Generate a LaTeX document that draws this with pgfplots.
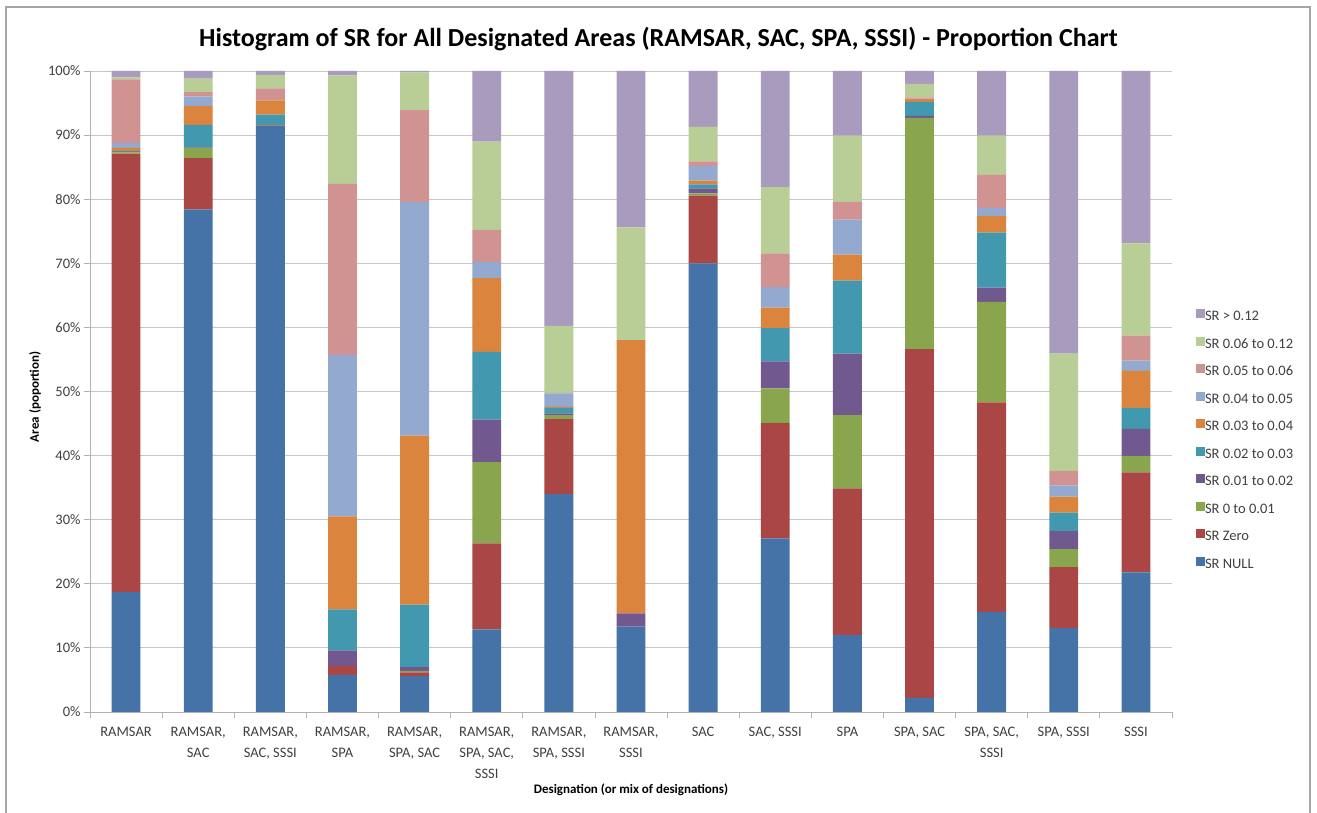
\documentclass[border=0pt]{standalone}
\usepackage{pgfplots}
\pgfplotsset{compat=1.18}
\usepackage{pgfplotstable}
\usepackage{fontspec}
\setmainfont{Carlito}
\definecolor{cNull}{HTML}{4572A7}
\definecolor{cZero}{HTML}{AA4643}
\definecolor{cA}{HTML}{89A54E}
\definecolor{cB}{HTML}{71588F}
\definecolor{cC}{HTML}{4198AF}
\definecolor{cD}{HTML}{DB843D}
\definecolor{cE}{HTML}{93A9CF}
\definecolor{cF}{HTML}{D19392}
\definecolor{cG}{HTML}{B9CD96}
\definecolor{cH}{HTML}{A99BBD}
\definecolor{txt}{HTML}{404040}

\pgfplotstableread{
x null zero a b c d e f g h
0 18.7 68.4 0.2 0.1 0.1 0.5 0.8 9.9 0.3 1.0
1 78.4 8.0 1.6 0.1 3.5 2.9 1.5 0.7 2.1 1.2
2 91.4 0.1 0.1 0 1.6 2.2 0 1.9 2.1 0.6
3 5.8 1.4 0 2.4 6.4 14.5 25.2 26.7 16.9 0.7
4 5.6 0.6 0.2 0.6 9.75 26.35 36.5 14.3 5.9 0.2
5 12.9 13.4 12.7 6.6 10.6 11.5 2.5 5.0 13.8 11.0
6 34.0 11.7 0.6 0.3 0.8 0.2 2.1 0.1 10.45 39.75
7 13.3 0 0 2.1 0 42.6 0 0 17.6 24.4
8 70.0 10.55 0.35 0.8 0.6 0.6 2.3 0.7 5.4 8.7
9 27.1 18.0 5.4 4.2 5.2 3.2 3.2 5.25 10.35 18.1
10 12.0 22.9 11.4 9.6 11.4 4.05 5.45 2.8 10.3 10.1
11 2.2 54.4 36.1 0.3 2.2 0.4 0.1 0.2 2.1 2.0
12 15.6 32.7 15.7 2.2 8.6 2.6 1.2 5.2 6.1 10.1
13 13.1 9.5 2.8 2.8 2.9 2.5 1.7 2.3 18.3 44.1
14 21.8 15.6 2.5 4.25 3.25 5.8 1.6 3.9 14.4 26.9
}\data

\begin{document}
\begin{tikzpicture}[x=1pt,y=1pt]
\useasboundingbox (0,0) rectangle (1317,813);
\fill[white] (0,0) rectangle (1317,813);
\draw[gray!70, line width=1.2pt] (6,0) -- (6,806) -- (1310,806) -- (1310,0);
\begin{axis}[
  at={(90pt,101pt)}, anchor=south west,
  scale only axis, width=1082pt, height=641pt,
  ybar stacked, bar width=0.4,
  xmin=-0.5, xmax=14.5, ymin=0, ymax=100,
  xtick={0,...,14},
  xticklabels={RAMSAR, {RAMSAR,\\SAC}, {RAMSAR,\\SAC, SSSI}, {RAMSAR,\\SPA}, {RAMSAR,\\SPA, SAC}, {RAMSAR,\\SPA, SAC,\\SSSI}, {RAMSAR,\\SPA, SSSI}, {RAMSAR,\\SSSI}, SAC, {SAC, SSSI}, SPA, {SPA, SAC}, {SPA, SAC,\\SSSI}, {SPA, SSSI}, SSSI},
  minor xtick={-0.5,0.5,...,14.5},
  ytick={0,10,...,100},
  yticklabel={\pgfmathprintnumber{\tick}\%},
  /pgf/number format/assume math mode=true,
  ymajorgrids, grid style={gray!45, line width=0.8pt},
  axis x line*=bottom, axis y line*=left,
  axis line style={gray!60, line width=0.8pt, -},
  tick align=outside, major tick length=6pt, minor tick length=6pt,
  every major x tick/.append style={draw=none},
  every minor x tick/.append style={gray!60, line width=0.8pt},
  every major y tick/.append style={gray!60, line width=0.8pt},
  xticklabel style={align=center, font=\fontsize{14.5}{21}\selectfont, text=txt, yshift=-6pt},
  yticklabel style={font=\fontsize{14.5}{17}\selectfont, text=txt},
  title={Histogram of SR for All Designated Areas (RAMSAR, SAC, SPA, SSSI) - Proportion Chart},
  title style={font=\bfseries\fontsize{26}{30}\selectfont, at={(axis description cs:0.5254,1.0406)}, anchor=center},
  xlabel={Designation (or mix of designations)},
  xlabel style={font=\bfseries\fontsize{13}{16}\selectfont, at={(axis description cs:0.5,-0.1217)}, anchor=center},
  ylabel={Area (poportion)},
  ylabel style={font=\bfseries\fontsize{13}{16}\selectfont, at={(axis description cs:-0.0508,0.4915)}, anchor=center},
  legend style={draw=none, fill=none, at={(axis description cs:1.022,0.424)}, anchor=west, font=\fontsize{14.5}{17}\selectfont, text=txt, row sep=13pt, inner xsep=0pt, nodes={inner sep=0pt, text height=10pt, text depth=3pt}},
  legend cell align=left, reverse legend,
  legend image code/.code={\fill[#1] (0pt,-1pt) rectangle (9pt,8pt);},
]
\addplot[fill=cNull, draw=none] table[x=x,y=null]{\data}; \addlegendentry{SR NULL}
\addplot[fill=cZero, draw=none] table[x=x,y=zero]{\data}; \addlegendentry{SR Zero}
\addplot[fill=cA, draw=none] table[x=x,y=a]{\data}; \addlegendentry{SR 0 to 0.01}
\addplot[fill=cB, draw=none] table[x=x,y=b]{\data}; \addlegendentry{SR 0.01 to 0.02}
\addplot[fill=cC, draw=none] table[x=x,y=c]{\data}; \addlegendentry{SR 0.02 to 0.03}
\addplot[fill=cD, draw=none] table[x=x,y=d]{\data}; \addlegendentry{SR 0.03 to 0.04}
\addplot[fill=cE, draw=none] table[x=x,y=e]{\data}; \addlegendentry{SR 0.04 to 0.05}
\addplot[fill=cF, draw=none] table[x=x,y=f]{\data}; \addlegendentry{SR 0.05 to 0.06}
\addplot[fill=cG, draw=none] table[x=x,y=g]{\data}; \addlegendentry{SR 0.06 to 0.12}
\addplot[fill=cH, draw=none] table[x=x,y=h]{\data}; \addlegendentry{SR > 0.12}
\end{axis}
\end{tikzpicture}
\end{document}
